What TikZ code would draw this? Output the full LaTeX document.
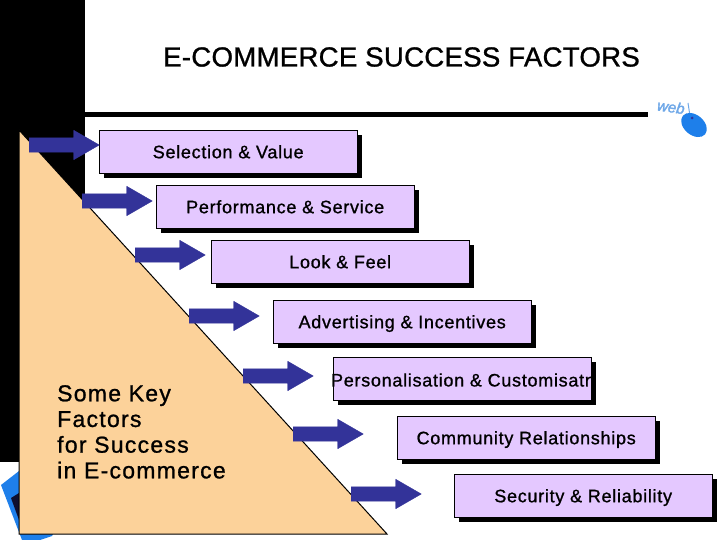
\documentclass[tikz,border=0pt]{standalone}
\usepackage{fontspec}
\setmainfont{Liberation Sans}[FakeBold=0.5,LetterSpace=0]
\newfontfamily\boxfont{Liberation Sans}[FakeBold=1,LetterSpace=4]
\newfontfamily\sidefont{Liberation Sans}[FakeBold=1,LetterSpace=5.5]
\newfontfamily\titlefont{Liberation Sans}[FakeBold=1,LetterSpace=1]
\newfontfamily\webfont{Liberation Sans}[FakeBold=2]
\usetikzlibrary{shapes.arrows,shapes.geometric,shadows}
\definecolor{lilac}{HTML}{E4C8FF}
\definecolor{sand}{HTML}{FCD29A}
\definecolor{navy}{HTML}{333399}
\definecolor{mouseblue}{HTML}{1E7FEA}
\definecolor{webblue}{HTML}{6FA8E8}
\tikzset{
  factor/.style={draw=black,fill=lilac,anchor=north west,minimum width=258pt,minimum height=43pt,
    inner sep=0pt,text depth=0pt,font=\boxfont\fontsize{18}{19}\selectfont,
    drop shadow={shadow xshift=5pt,shadow yshift=-5pt,fill=black,opacity=1}},
  pointer/.style={single arrow,fill=navy,draw=navy,anchor=west,minimum height=70pt,text height=14pt,text depth=0pt,
    text width=0pt,single arrow head extend=7.5pt,single arrow head indent=0pt,single arrow tip angle=60,
    inner sep=0pt,shape border uses incircle=false}
}
\begin{document}
\begin{tikzpicture}[x=1pt,y=-1pt]
  \useasboundingbox (0,0) rectangle (720,540);
  \fill[white] (0,0) rectangle (720,540);
  % left band and title rule
  \fill[black] (0,0) rectangle (85,462);
  \fill[black] (85,112) rectangle (648,117);
  % blue picture behind the triangle
  \fill[mouseblue] (1,485) -- (19,471) -- (60,520) -- (52,536) -- (40,540) -- (22,540) -- cycle;
  \fill[black!70!navy] (11,498) -- (19,493) -- (19,520) -- cycle;
  \node[font=\titlefont\fontsize{27.6}{30}\selectfont,anchor=center] (title) at (401.5,57) {E-COMMERCE SUCCESS FACTORS};
  % triangle
  \draw[black,fill=sand,line width=1pt] (19,130) -- (387,534) -- (19,534) -- cycle;
  \node[anchor=north west,align=left,inner sep=0pt,font=\sidefont\fontsize{23}{25.7}\selectfont]
    (keyfactors) at (57,385) {Some Key\\Factors\\for Success\\in E-commerce};
  % factors
  \node[factor] (selection)   at (99,130)  {Selection \& Value};
  \node[factor] (performance) at (156,185) {Performance \& Service};
  \node[factor] (look)        at (211,240) {Look \& Feel};
  \node[factor] (advertising) at (273,300) {Advertising \& Incentives};
  \node[factor] (personal)    at (333,357) {};
  \node[factor] (community)   at (397,416) {Community Relationships};
  \node[factor] (security)    at (454,474) {Security \& Reliability};
  \node[font=\boxfont\fontsize{18}{19}\selectfont] (personaltext) at (463,380) {Personalisation \& Customisatn};
  % arrows
  \node[pointer] (a1) at (29,145)  {};
  \node[pointer] (a2) at (82,201)  {};
  \node[pointer] (a3) at (135,255) {};
  \node[pointer] (a4) at (189,316) {};
  \node[pointer] (a5) at (243,376) {};
  \node[pointer] (a6) at (293,434) {};
  \node[pointer] (a7) at (351,494) {};
  % mouse
  \node[rotate=-8,inner sep=0pt,font=\webfont\itshape\fontsize{15}{16}\selectfont,text=webblue] (web) at (671,107) {web};
  \draw[webblue,line width=1pt] (688,103) -- (690,116);
  \node[ellipse,draw=none,fill=mouseblue,minimum width=29pt,minimum height=20pt,rotate=-40,inner sep=0pt] (mouse) at (694,125) {};
  \fill[navy] (692,118) circle (1.5pt);
\end{tikzpicture}
\end{document}
